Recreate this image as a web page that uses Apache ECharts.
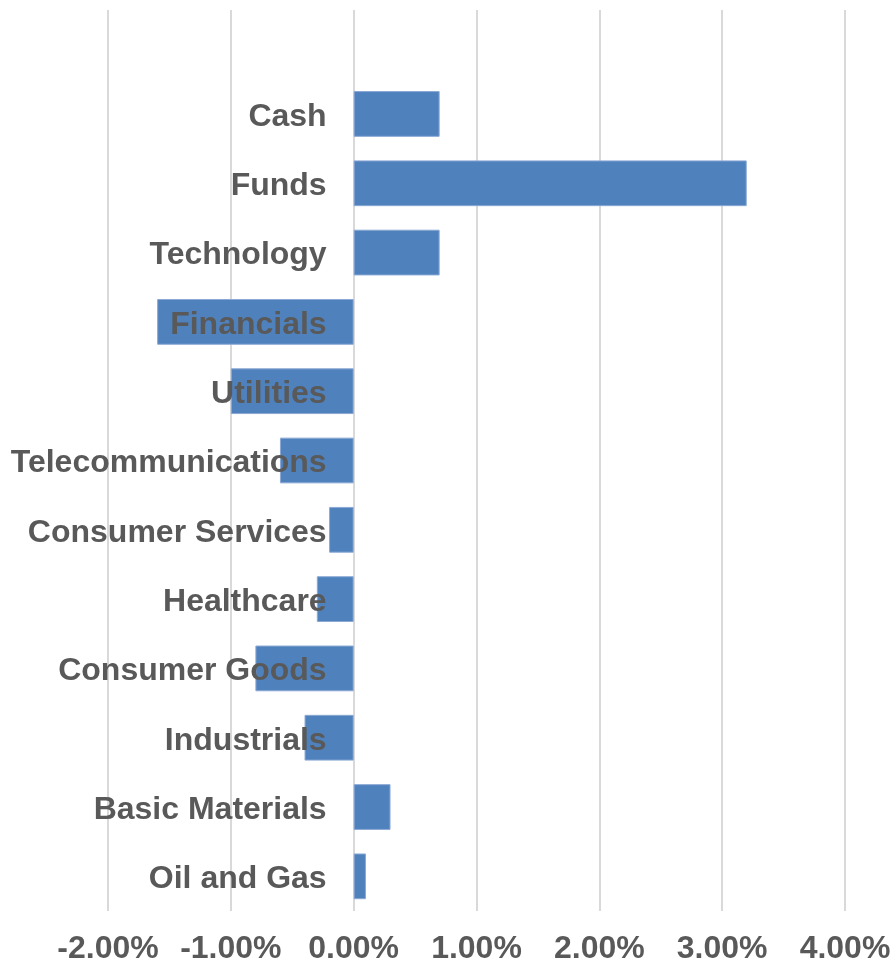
<!DOCTYPE html>
<html>
<head>
<meta charset="utf-8">
<script src="https://cdn.jsdelivr.net/npm/echarts@6/dist/echarts.min.js"></script>
<style>
  html, body { margin: 0; padding: 0; background: #ffffff; }
  #chart { width: 894px; height: 962px; }
</style>
</head>
<body>
<div id="chart"></div>
<script>
// Sector weights relative to benchmark (%), top to bottom; the first slot is an empty row
const sectors = ['', 'Cash', 'Funds', 'Technology', 'Financials', 'Utilities', 'Telecommunications',
  'Consumer Services', 'Healthcare', 'Consumer Goods', 'Industrials', 'Basic Materials', 'Oil and Gas'];
const weights = [null, 0.70, 3.20, 0.70, -1.60, -1.00, -0.60, -0.20, -0.30, -0.80, -0.40, 0.30, 0.10];
const axisMin = -2, axisMax = 4, axisStep = 1;

const gridLeft = 108, gridRight = 49;
const plotWidth = 894 - gridLeft - gridRight;
// horizontal offset that places the category axis on the zero line
const zeroOffset = -plotWidth * (0 - axisMin) / (axisMax - axisMin);

const chart = echarts.init(document.getElementById('chart'));
const labelFont = {
  fontFamily: 'Liberation Sans, Arial, sans-serif',
  fontWeight: 'bold',
  fontSize: 32,
  color: '#595959'
};

chart.setOption({
  animation: false,
  backgroundColor: '#ffffff',
  grid: { left: gridLeft, right: gridRight, top: 10, bottom: 51, containLabel: false, outerBoundsMode: 'none' },
  xAxis: {
    type: 'value',
    min: axisMin,
    max: axisMax,
    interval: axisStep,
    axisLine: { show: false },
    axisTick: { show: false },
    splitLine: { show: true, lineStyle: { color: '#d9d9d9', width: 2 } },
    axisLabel: Object.assign({
      margin: 22,
      hideOverlap: false,
      formatter: v => v.toFixed(2) + '%'
    }, labelFont)
  },
  yAxis: {
    type: 'category',
    data: sectors,
    inverse: true,
    offset: zeroOffset,
    z: 10,
    axisLine: { show: false },
    axisTick: { show: false },
    splitLine: { show: false },
    axisLabel: Object.assign({
      margin: 27,
      formatter: v => v ? '{s|' + v + '}' : '',
      rich: { s: Object.assign({ padding: [6, 0, 0, 0] }, labelFont) }
    }, labelFont)
  },
  series: [{
    type: 'bar',
    data: weights,
    barCategoryGap: '34%',
    itemStyle: { color: '#4f81bd', borderColor: '#8aa8d4', borderWidth: 1 }
  }]
});
</script>
</body>
</html>
